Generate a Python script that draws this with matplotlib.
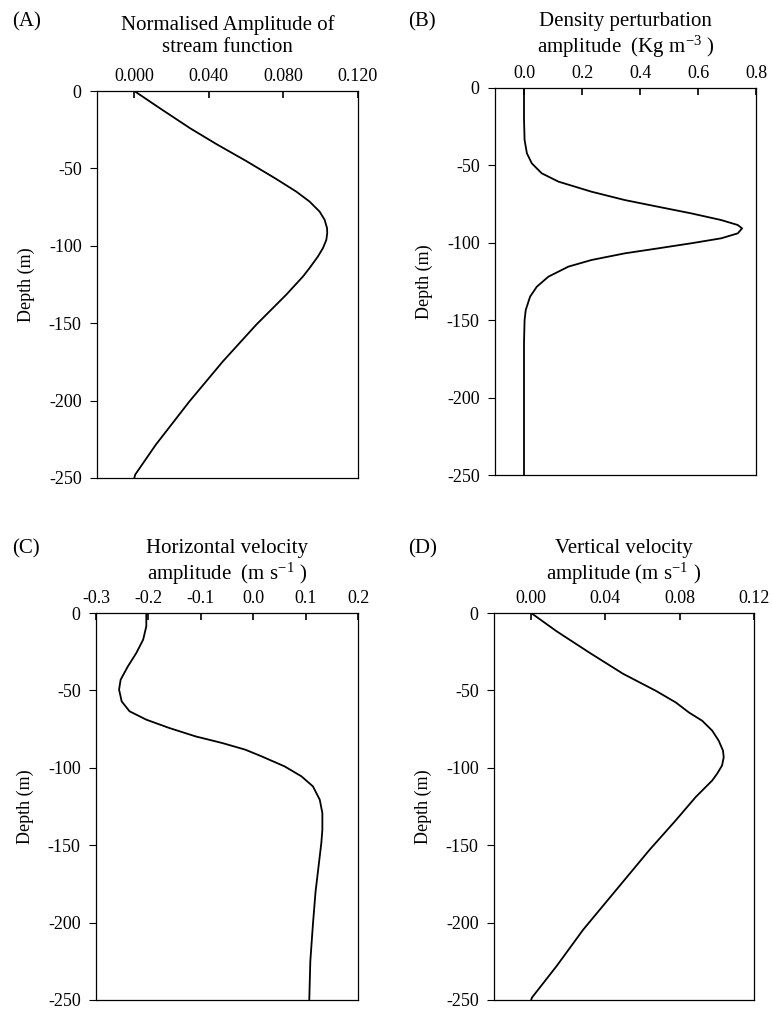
import numpy as np
import matplotlib
matplotlib.use("Agg")
import matplotlib.pyplot as plt
from matplotlib.ticker import FormatStrFormatter

plt.rcParams['font.family'] = ['Liberation Serif', 'DejaVu Serif']
plt.rcParams['mathtext.fontset'] = 'stix'
plt.rcParams['axes.unicode_minus'] = False

# (A) normalised stream function amplitude
depth_a = [0, -11.2, -24.1, -34.4, -45.2, -56.8, -65.0, -71.4, -77.9, -83.2,
           -88.6, -91.8, -96.2, -101.5, -106.9, -114.4, -119.8, -131.6, -151.0,
           -174.7, -200.5, -228.4, -247.8, -250]
amp_a = [0.000, 0.0138, 0.0300, 0.0442, 0.0600, 0.0761, 0.0869, 0.0940, 0.0994,
         0.1021, 0.1034, 0.1035, 0.1030, 0.1012, 0.0985, 0.0940, 0.0905, 0.0815,
         0.0654, 0.0475, 0.0296, 0.0116, 0.0005, 0.000]

# (B) density perturbation amplitude
depth_b = [0, -20, -33.6, -42.2, -48.7, -55.1, -60.5, -67.0, -72.4, -76.7, -81.0,
           -85.3, -88.5, -90.7, -93.9, -97.1, -100.3, -103.6, -106.8, -111.1,
           -115.4, -121.9, -128.4, -134.8, -143.4, -149.9, -165, -250]
rho_b = [0.000, 0.000, 0.002, 0.010, 0.027, 0.061, 0.119, 0.233, 0.348, 0.462,
         0.577, 0.680, 0.737, 0.752, 0.737, 0.680, 0.577, 0.462, 0.348, 0.233,
         0.153, 0.084, 0.044, 0.021, 0.006, 0.002, 0.000, 0.000]

# (C) horizontal velocity amplitude
depth_c = [0, -8.6, -17.2, -25.8, -34.4, -43.1, -49.5, -57.1, -63.5, -68.9,
           -74.3, -79.7, -84.0, -88.3, -92.6, -99.1, -105.5, -112.0, -120.6,
           -129.2, -140.0, -148.6, -180, -201, -225, -250]
u_c = [-0.204, -0.204, -0.210, -0.223, -0.239, -0.253, -0.256, -0.251, -0.236,
       -0.204, -0.160, -0.110, -0.059, -0.015, 0.016, 0.060, 0.092, 0.114,
       0.127, 0.132, 0.132, 0.130, 0.119, 0.114, 0.109, 0.107]

# (D) vertical velocity amplitude
depth_d = [0, -11.8, -25.7, -39.2, -50.3, -57.8, -64.3, -69.6, -76.0, -82.5,
           -88.9, -93.2, -98.5, -103.9, -108.2, -118.9, -133.9, -153.2, -178.9,
           -204.6, -228.1, -248.5, -250]
w_d = [0.000, 0.0137, 0.0315, 0.0494, 0.0672, 0.0779, 0.0850, 0.0921, 0.0975,
       0.1010, 0.1033, 0.1037, 0.1028, 0.1001, 0.0975, 0.0886, 0.0779, 0.0636,
       0.0458, 0.0280, 0.0137, 0.0004, 0.000]

W, H = 772, 1011
fig = plt.figure(figsize=(W / 100, H / 100), dpi=100)


def box(left, top, right, bottom):
    return [left / W, 1 - bottom / H, (right - left) / W, (bottom - top) / H]


panels = [
    dict(rect=box(97, 91, 358, 478), x=amp_a, y=depth_a, xlim=(-0.02, 0.12),
         ticks=[0.0, 0.04, 0.08, 0.12], fmt='%.3f', tag='(A)', tag_xy=(12, 22),
         title='Normalised Amplitude of\nstream function', title_y=36),
    dict(rect=box(495, 88, 756, 475), x=rho_b, y=depth_b, xlim=(-0.1, 0.8),
         ticks=[0.0, 0.2, 0.4, 0.6, 0.8], fmt='%.1f', tag='(B)', tag_xy=(408, 22),
         title='Density perturbation\namplitude  (Kg m$^{\\mathregular{-3}}$ )', title_y=36),
    dict(rect=box(96, 613, 358, 1000), x=u_c, y=depth_c, xlim=(-0.3, 0.2),
         ticks=[-0.3, -0.2, -0.1, 0.0, 0.1, 0.2], fmt='%.1f', tag='(C)', tag_xy=(12, 549),
         title='Horizontal velocity\namplitude  (m s$^{\\mathregular{-1}}$ )', title_y=563),
    dict(rect=box(494, 613, 754, 1000), x=w_d, y=depth_d, xlim=(-0.02, 0.12),
         ticks=[0.0, 0.04, 0.08, 0.12], fmt='%.2f', tag='(D)', tag_xy=(408, 549),
         title='Vertical velocity\namplitude (m s$^{\\mathregular{-1}}$ )', title_y=563),
]

for p in panels:
    ax = fig.add_axes(p['rect'])
    ax.plot(p['x'], p['y'], color='black', lw=1.3, solid_joinstyle='round')
    ax.set_xlim(*p['xlim'])
    ax.set_ylim(-250, 0)
    ax.set_yticks([0, -50, -100, -150, -200, -250])
    ax.set_xticks(p['ticks'])
    ax.xaxis.set_major_formatter(FormatStrFormatter(p['fmt']))
    ax.xaxis.tick_top()
    ax.tick_params(axis='x', direction='in', length=5, width=1.2, labelsize=13, pad=4)
    ax.tick_params(axis='y', direction='out', length=5, width=0.8, labelsize=13, pad=6)
    for s in ax.spines.values():
        s.set_linewidth(0.9)
    ax.set_ylabel('Depth (m)', fontsize=13, labelpad=10)

    r = p['rect']
    fig.text(r[0] + r[2] / 2, 1 - p['title_y'] / H, p['title'], ha='center',
             va='center', fontsize=15, linespacing=1.15)
    fig.text(p['tag_xy'][0] / W, 1 - p['tag_xy'][1] / H, p['tag'], ha='left',
             va='center', fontsize=15)

fig.savefig('out.png', dpi=100)
